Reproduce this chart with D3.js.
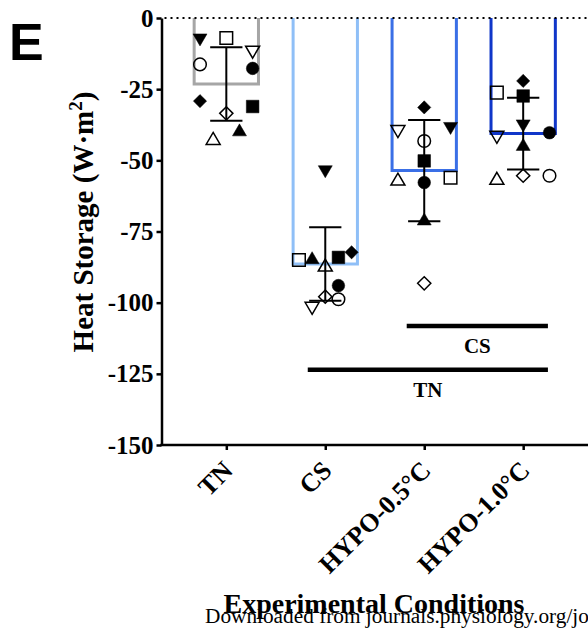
<!DOCTYPE html>
<html><head><meta charset="utf-8">
<script src="https://cdn.jsdelivr.net/npm/d3@7"></script>
<style>html,body{margin:0;padding:0;background:#fff;overflow:hidden}</style>
</head><body><svg id="c" width="588" height="634"></svg>
<script>
const categories = ["TN","CS","HYPO-0.5°C","HYPO-1.0°C"];
const means = [-23.2,-86.4,-53.6,-40.6];
const sds = [12.9,12.9,17.8,12.6];
const barColors = ["#a6a6a6","#8fbff7","#3a6fe6","#1036c9"];
const subjectSymbols = ["triDown","square","triDown","circle","circle","diamond","diamond","square","triUp","triUp"];
const subjectFilled = [true,false,false,false,true,true,false,true,false,true];
const valuesTN  = [-7.7,-7.0,-12.0,-16.3,-17.7,-29.2,-33.5,-31.1,-42.3,-39.3];
const valuesCS  = [-54.0,-85.0,-102.0,-98.8,-94.0,-82.3,-97.9,-84.1,-86.8,-84.2];
const valuesH05 = [-38.8,-56.1,-39.9,-43.2,-57.8,-31.4,-93.2,-50.2,-56.6,-70.6];
const valuesH10 = [-37.9,-26.2,-41.9,-55.4,-40.3,-22.1,-55.4,-27.4,-56.3,-44.4];
const jitterTN  = [-2,0,2,-2,2,-2,0,2,-1,1];
const jitterCS  = [0,-2,-1,1,1,2,0,1,0,-1];
const jitterH05 = [2,2,-2,0,0,0,0,0,-2,0];
const jitterH10 = [0,-2,-2,2,2,0,0,0,-2,0];
const yTicks = [0,-25,-50,-75,-100,-125,-150];
const sigFrom = ["HYPO-0.5°C","CS"];
const sigTo = ["HYPO-1.0°C","HYPO-1.0°C"];
const sigY = [-108.2,-123.6];
const sigLabels = ["CS","TN"];

const groupValues = [valuesTN, valuesCS, valuesH05, valuesH10];
const groupJitter = [jitterTN, jitterCS, jitterH05, jitterH10];

const svg = d3.select("#c");
const serif = "'Liberation Serif','Times New Roman',serif";
const x = d3.scalePoint().domain(categories).range([161.5,588]).padding(0.655);
const y = d3.scaleLinear().domain([-150,0]).range([445,18]);
const step = x.step();
const halfBar = step*0.325;
const capHalf = step*0.163;
const jit = step*0.133;

// bars (open top)
svg.append("g").selectAll("path").data(categories).join("path")
  .attr("d",(c,i)=>`M${x(c)-halfBar},${y(0)}V${y(means[i])}H${x(c)+halfBar}V${y(0)}`)
  .attr("fill","none").attr("stroke",(c,i)=>barColors[i]).attr("stroke-width",3);

// zero dotted line
svg.append("line").attr("x1",x.range()[0]+3).attr("x2",588).attr("y1",y(0)).attr("y2",y(0))
  .attr("stroke","#000").attr("stroke-width",2).attr("stroke-dasharray","2,4");

function symbolPath(t){
  switch(t){
    case "square": return "M-6.3,-6.3h12.6v12.6h-12.6Z";
    case "circle": return "M6.3,0A6.3,6.3 0 1,1 -6.3,0A6.3,6.3 0 1,1 6.3,0Z";
    case "diamond": return "M0,-6.6L6.6,0L0,6.6L-6.6,0Z";
    case "triUp": return "M0,-6L7,6L-7,6Z";
    case "triDown": return "M0,6L7,-6L-7,-6Z";
  }
}
const pts = [];
categories.forEach((c,gi)=>{
  groupValues[gi].forEach((v,si)=>pts.push({c,v,j:groupJitter[gi][si],sym:subjectSymbols[si],f:subjectFilled[si]}));
});
svg.append("g").selectAll("path").data(pts).join("path")
  .attr("transform",d=>`translate(${x(d.c)+d.j*jit},${y(d.v)})`)
  .attr("d",d=>symbolPath(d.sym))
  .attr("fill",d=>d.f?"#000":"none")
  .attr("stroke","#000").attr("stroke-width",d=>d.f?0.5:1.5);

// error bars
const eb = svg.append("g").attr("stroke","#000").attr("stroke-width",2);
categories.forEach((c,i)=>{
  const cx = x(c), lo = y(means[i]-sds[i]), hi = y(means[i]+sds[i]);
  eb.append("line").attr("x1",cx).attr("x2",cx).attr("y1",hi).attr("y2",lo);
  eb.append("line").attr("x1",cx-capHalf).attr("x2",cx+capHalf).attr("y1",hi).attr("y2",hi);
  eb.append("line").attr("x1",cx-capHalf).attr("x2",cx+capHalf).attr("y1",lo).attr("y2",lo);
});

// significance bars
sigLabels.forEach((lab,i)=>{
  const x1 = x(sigFrom[i]) - step*0.177, x2 = x(sigTo[i]) + step*0.25;
  svg.append("line").attr("x1",x1).attr("x2",x2).attr("y1",y(sigY[i])).attr("y2",y(sigY[i]))
    .attr("stroke","#000").attr("stroke-width",4.5);
  svg.append("text").attr("x",(x1+x2)/2).attr("y",y(sigY[i])+27).attr("text-anchor","middle")
    .attr("font-family",serif).attr("font-weight","bold").attr("font-size",21).text(lab);
});

// y axis
const ya = svg.append("g").attr("transform","translate(161.5,0)")
  .call(d3.axisLeft(y).tickValues(yTicks).tickFormat(d=>String(d)).tickSize(5).tickSizeOuter(0).tickPadding(3));
ya.selectAll("path,line").attr("stroke","#000").attr("stroke-width",2.5);
ya.selectAll("text").attr("font-family",serif).attr("font-weight","bold").attr("font-size",25).attr("fill","#000");

// x axis
const xa = svg.append("g").attr("transform","translate(0,445)")
  .call(d3.axisBottom(x).tickSize(5).tickSizeOuter(0).tickFormat(""));
xa.select(".domain").attr("d",`M${x.range()[0]-1.25},0H588`);
xa.selectAll("path,line").attr("stroke","#000").attr("stroke-width",2.5);
svg.append("g").selectAll("text").data(categories).join("text")
  .attr("transform",c=>`translate(${x(c)+8},472) rotate(-45)`)
  .attr("text-anchor","end").attr("font-family",serif).attr("font-weight","bold").attr("font-size",26)
  .text(c=>c);

// titles
const yt = svg.append("text").attr("transform","translate(93,222) rotate(-90)").attr("text-anchor","middle")
  .attr("font-family",serif).attr("font-weight","bold").attr("font-size",29);
yt.append("tspan").text("Heat Storage (W·m");
yt.append("tspan").attr("dy",-11).attr("font-size",19).text("2");
yt.append("tspan").attr("dy",11).text(")");

svg.append("text").attr("x",374).attr("y",613).attr("text-anchor","middle")
  .attr("font-family",serif).attr("font-weight","bold").attr("font-size",28).text("Experimental Conditions");
svg.append("text").attr("x",205).attr("y",623)
  .attr("font-family",serif).attr("font-size",21.3).text("Downloaded from journals.physiology.org/journal/jappl");
svg.append("text").attr("x",9).attr("y",60)
  .attr("font-family","'Liberation Sans',Arial,sans-serif").attr("font-weight","bold").attr("font-size",52).text("E");
</script></body></html>
